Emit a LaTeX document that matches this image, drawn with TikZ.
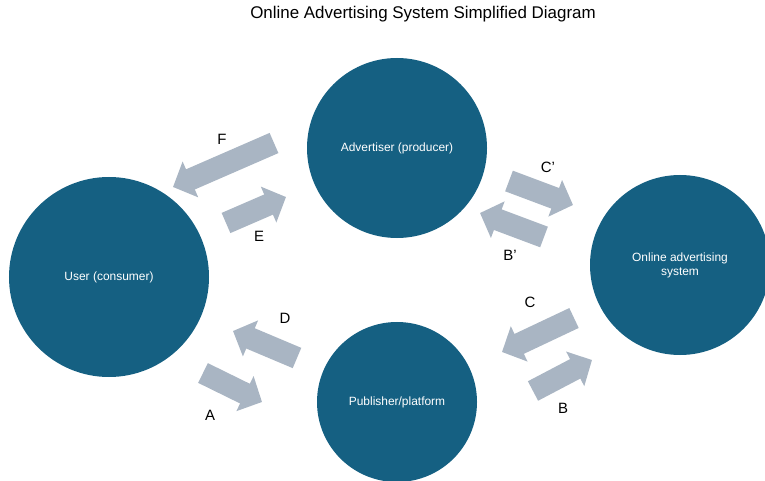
\documentclass[tikz,border=0pt]{standalone}
\usepackage{fontspec}
\setmainfont{Liberation Sans}
\usetikzlibrary{arrows.meta}
\definecolor{circ}{HTML}{156082}
\definecolor{arr}{HTML}{A9B5C3}
\begin{document}
\begin{tikzpicture}[x=1bp,y=-1bp,
  party/.style={circle,fill=circ,draw=none,text=white,align=center,font=\fontsize{12}{14}\selectfont,inner sep=0pt},
  blockarrow/.style={draw=arr,line width=22bp,-{Triangle[length=19bp,width=38bp]}},
  lbl/.style={font=\fontsize{15}{17}\selectfont,text=black}]
\useasboundingbox (0,0) rectangle (765,481);
\node[lbl,font=\fontsize{17}{19}\selectfont] (title) at (423,14) {Online Advertising System Simplified Diagram};
\node[party,minimum size=180bp] (adv) at (397,148) {Advertiser (producer)};
\node[party,minimum size=200bp] (user) at (109,277) {User (consumer)};
\node[party,minimum size=180bp] (oas) at (680,265) {Online advertising\\system};
\node[party,minimum size=160bp] (pub) at (397,402) {Publisher/platform};
% arrow end points
\coordinate (Ft) at (274,143); \coordinate (Fh) at (173,187);
\coordinate (Et) at (226,223); \coordinate (Eh) at (286,197);
\coordinate (Cpt) at (509,181); \coordinate (Cph) at (573,205);
\coordinate (Bpt) at (544,237); \coordinate (Bph) at (480,213);
\coordinate (Dt) at (297,358); \coordinate (Dh) at (233,331);
\coordinate (At) at (203,373); \coordinate (Ah) at (262,402);
\coordinate (Ct) at (574,318); \coordinate (Ch) at (502,352);
\coordinate (Bt) at (533,391); \coordinate (Bh) at (592,360);
\draw[blockarrow] (Ft) -- (Fh);
\draw[blockarrow] (Et) -- (Eh);
\draw[blockarrow] (Cpt) -- (Cph);
\draw[blockarrow] (Bpt) -- (Bph);
\draw[blockarrow] (Dt) -- (Dh);
\draw[blockarrow] (At) -- (Ah);
\draw[blockarrow] (Ct) -- (Ch);
\draw[blockarrow] (Bt) -- (Bh);
\node[lbl] (lF) at (222,139) {F};
\node[lbl] (lE) at (259,236) {E};
\node[lbl] (lCp) at (548,167) {C’};
\node[lbl] (lBp) at (510,255) {B’};
\node[lbl] (lD) at (285,318) {D};
\node[lbl] (lA) at (210,415) {A};
\node[lbl] (lC) at (530,302) {C};
\node[lbl] (lB) at (563,408) {B};
\end{tikzpicture}
\end{document}
